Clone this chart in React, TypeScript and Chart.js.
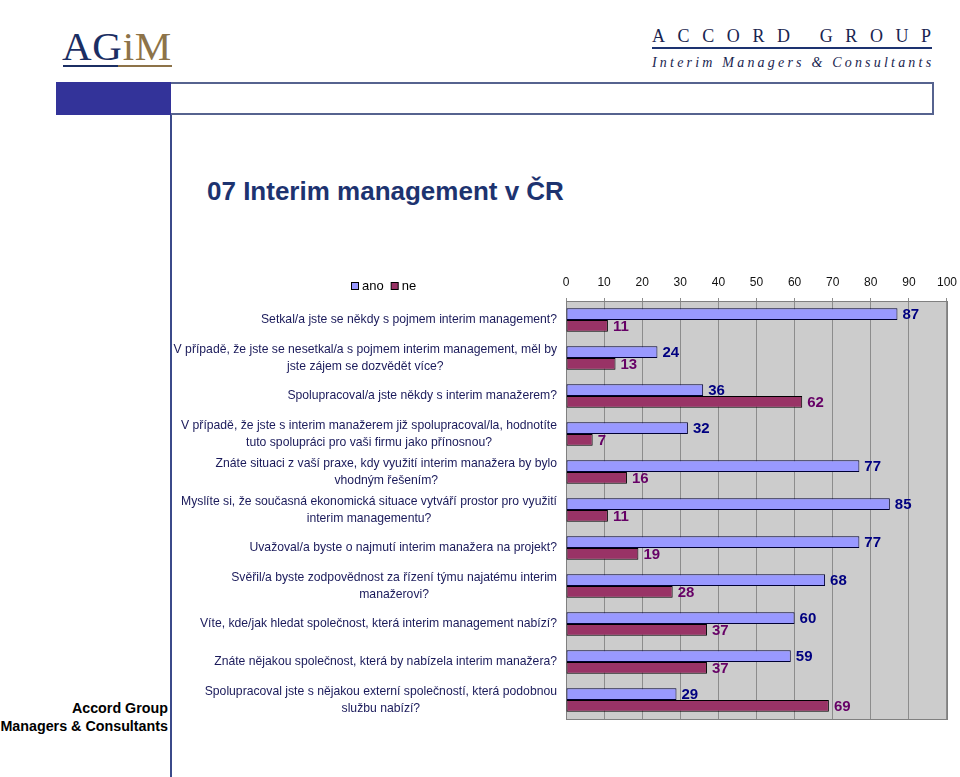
import React, { useEffect, useRef } from "react";
import { Chart, registerables } from "chart.js";

Chart.register(...registerables);

const categories: string[][] = [
  ["Setkal/a jste se někdy s pojmem interim management?"],
  ["V případě, že jste se nesetkal/a s pojmem interim management, měl by", "jste zájem se dozvědět více?"],
  ["Spolupracoval/a jste někdy s interim manažerem?"],
  ["V případě, že jste s interim manažerem již spolupracoval/la, hodnotíte", "tuto spolupráci pro vaši firmu jako přínosnou?"],
  ["Znáte situaci z vaší praxe, kdy využití interim manažera by bylo", "vhodným řešením?"],
  ["Myslíte si, že současná ekonomická situace vytváří prostor pro využití", "interim managementu?"],
  ["Uvažoval/a byste o najmutí interim manažera na projekt?"],
  ["Svěřil/a byste zodpovědnost za řízení týmu najatému interim", "manažerovi?"],
  ["Víte, kde/jak hledat společnost, která interim management nabízí?"],
  ["Znáte nějakou společnost, která by nabízela interim manažera?"],
  ["Spolupracoval jste s nějakou externí společností, která podobnou", "službu nabízí?"],
];

const seriesNames = ["ano", "ne"];
const anoValues = [87, 24, 36, 32, 77, 85, 77, 68, 60, 59, 29];
const neValues = [11, 13, 62, 7, 16, 11, 19, 28, 37, 37, 69];
const axisMin = 0;
const axisMax = 100;
const axisStep = 10;

const title = "07 Interim management v ČR";

const ANO_FILL = "#9999FF";
const NE_FILL = "#993366";
const ANO_LABEL = "#000080";
const NE_LABEL = "#660066";
const FONT = '"Liberation Sans", Arial, sans-serif';

const CANVAS_LEFT = 170;
const CANVAS_TOP = 262;
const CANVAS_W = 795;
const CANVAS_H = 463;

const plotBackground = {
  id: "plotBackground",
  beforeDraw(chart: any) {
    const { ctx, chartArea: a } = chart;
    ctx.save();
    ctx.fillStyle = "#CCCCCC";
    ctx.fillRect(a.left, a.top, a.right - a.left, a.bottom - a.top);
    ctx.restore();
  },
  beforeDatasetsDraw(chart: any) {
    const { ctx, chartArea: a } = chart;
    ctx.save();
    ctx.strokeStyle = "#808080";
    ctx.lineWidth = 1;
    ctx.strokeRect(Math.round(a.left) + 0.5, Math.round(a.top) + 0.5, Math.round(a.right - a.left), Math.round(a.bottom - a.top));
    ctx.restore();
  },
};

const valueLabels = {
  id: "valueLabels",
  afterDatasetsDraw(chart: any) {
    const { ctx } = chart;
    ctx.save();
    ctx.font = `bold 15px ${FONT}`;
    ctx.textBaseline = "middle";
    ctx.textAlign = "left";
    chart.data.datasets.forEach((ds: any, di: number) => {
      const meta = chart.getDatasetMeta(di);
      ctx.fillStyle = di === 0 ? ANO_LABEL : NE_LABEL;
      meta.data.forEach((el: any, i: number) => {
        ctx.fillText(String(ds.data[i]), el.x + 5, el.y + 1);
      });
    });
    ctx.restore();
  },
};

const categoryLabels = {
  id: "categoryLabels",
  afterDraw(chart: any) {
    const { ctx } = chart;
    const yScale = chart.scales.y;
    const right = 557 - CANVAS_LEFT;
    ctx.save();
    ctx.font = `12.2px ${FONT}`;
    ctx.fillStyle = "#1a1a5a";
    ctx.textAlign = "center";
    ctx.textBaseline = "middle";
    (chart.data.labels as string[][]).forEach((lines, i) => {
      const cy = yScale.getPixelForTick(i);
      const w = Math.max(...lines.map((l) => ctx.measureText(l).width));
      const cx = right - w / 2;
      lines.forEach((l, j) => {
        ctx.fillText(l, cx, cy + (j - (lines.length - 1) / 2) * 17);
      });
    });
    ctx.restore();
  },
};

const customLegend = {
  id: "customLegend",
  afterDraw(chart: any) {
    const { ctx } = chart;
    const cy = 286 - CANVAS_TOP;
    let x = 351 - CANVAS_LEFT;
    ctx.save();
    ctx.font = `13px ${FONT}`;
    ctx.textBaseline = "middle";
    ctx.textAlign = "left";
    chart.data.datasets.forEach((ds: any) => {
      ctx.fillStyle = ds.backgroundColor;
      ctx.fillRect(x + 0.5, cy - 4 + 0.5, 7, 7);
      ctx.strokeStyle = "#000";
      ctx.lineWidth = 1;
      ctx.strokeRect(x + 0.5, cy - 4 + 0.5, 7, 7);
      ctx.fillStyle = "#000";
      ctx.fillText(ds.label, x + 11, cy);
      x += 11 + ctx.measureText(ds.label).width + 7;
    });
    ctx.restore();
  },
};

function BarChart() {
  const ref = useRef<HTMLCanvasElement | null>(null);
  useEffect(() => {
    if (!ref.current) return;
    const chart = new Chart(ref.current, {
      type: "bar",
      data: {
        labels: categories,
        datasets: [
          {
            label: seriesNames[0],
            data: anoValues,
            backgroundColor: ANO_FILL,
            borderColor: "#000033",
            borderWidth: 1,
            borderSkipped: false,
            categoryPercentage: 0.62,
            barPercentage: 1,
          },
          {
            label: seriesNames[1],
            data: neValues,
            backgroundColor: NE_FILL,
            borderColor: "#000000",
            borderWidth: 1,
            borderSkipped: false,
            categoryPercentage: 0.62,
            barPercentage: 1,
          },
        ],
      },
      options: {
        indexAxis: "y",
        responsive: false,
        maintainAspectRatio: false,
        animation: false,
        events: [],
        layout: { padding: { top: 0, right: 6, bottom: 6, left: 0 } },
        plugins: {
          legend: { display: false },
          tooltip: { enabled: false },
          title: { display: false },
        },
        scales: {
          x: {
            position: "top",
            min: axisMin,
            max: axisMax,
            ticks: {
              stepSize: axisStep,
              color: "#111",
              font: { family: FONT, size: 12 },
              padding: 8,
            },
            grid: {
              color: "#8C8C8C",
              lineWidth: 1,
              drawTicks: true,
              tickLength: 3,
            },
            border: { display: true, color: "#808080" },
            afterFit: (scale: any) => {
              scale.height = 39;
            },
          },
          y: {
            type: "category",
            ticks: { display: false },
            grid: { display: false },
            border: { display: false },
            afterFit: (scale: any) => {
              scale.width = 396;
            },
          },
        },
      },
      plugins: [plotBackground, valueLabels, categoryLabels, customLegend],
    } as any);
    return () => chart.destroy();
  }, []);
  return (
    <canvas
      ref={ref}
      width={CANVAS_W}
      height={CANVAS_H}
      style={{ position: "absolute", left: CANVAS_LEFT, top: CANVAS_TOP, width: CANVAS_W, height: CANVAS_H }}
    />
  );
}

export default function App() {
  const navy = "#1d3370";
  return (
    <div
      style={{
        position: "absolute",
        left: 0,
        top: 0,
        width: 960,
        height: 777,
        background: "#fff",
        overflow: "hidden",
        fontFamily: FONT,
      }}
    >
      {/* AGiM logo */}
      <div
        style={{
          position: "absolute",
          left: 62,
          top: 26,
          fontFamily: '"Liberation Serif", "Times New Roman", serif',
          fontSize: 41,
          lineHeight: "41px",
          whiteSpace: "nowrap",
          letterSpacing: 0.7,
        }}
      >
        <span style={{ color: "#1b2e63" }}>AG</span>
        <span style={{ color: "#8d7349" }}>iM</span>
      </div>
      <div style={{ position: "absolute", left: 63, top: 65, width: 55, height: 2, background: "#1b2e63" }} />
      <div style={{ position: "absolute", left: 118, top: 65, width: 54, height: 2, background: "#8d7349" }} />

      {/* ACCORD GROUP */}
      <div
        style={{
          position: "absolute",
          left: 652,
          top: 27,
          fontFamily: '"Liberation Serif", "Times New Roman", serif',
          fontSize: 18,
          lineHeight: "18px",
          letterSpacing: 12.6,
          color: "#1a2550",
          whiteSpace: "nowrap",
        }}
      >
        ACCORD GROUP
      </div>
      <div style={{ position: "absolute", left: 652, top: 47, width: 280, height: 2, background: navy }} />
      <div
        style={{
          position: "absolute",
          left: 652,
          top: 56,
          fontFamily: '"Liberation Serif", "Times New Roman", serif',
          fontStyle: "italic",
          fontSize: 14,
          lineHeight: "14px",
          letterSpacing: 3.2,
          color: "#1a2550",
          whiteSpace: "nowrap",
        }}
      >
        Interim Managers &amp; Consultants
      </div>

      {/* header band */}
      <div style={{ position: "absolute", left: 56, top: 82, width: 115, height: 33, background: "#333399" }} />
      <div
        style={{
          position: "absolute",
          left: 171,
          top: 82,
          width: 763,
          height: 33,
          boxSizing: "border-box",
          border: "2px solid #56638f",
          borderLeft: "none",
        }}
      />
      <div style={{ position: "absolute", left: 170, top: 115, width: 2, height: 662, background: "#3b4a8a" }} />

      {/* title */}
      <div
        style={{
          position: "absolute",
          left: 207,
          top: 178,
          fontSize: 26,
          lineHeight: "26px",
          fontWeight: "bold",
          color: navy,
          whiteSpace: "nowrap",
        }}
      >
        {title}
      </div>

      {/* footer brand */}
      <div
        style={{
          position: "absolute",
          right: 960 - 168,
          top: 699,
          fontSize: 14.3,
          lineHeight: "18px",
          fontWeight: "bold",
          color: "#000",
          textAlign: "right",
          whiteSpace: "nowrap",
        }}
      >
        Accord Group
        <br />
        Managers &amp; Consultants
      </div>

      <BarChart />
    </div>
  );
}
